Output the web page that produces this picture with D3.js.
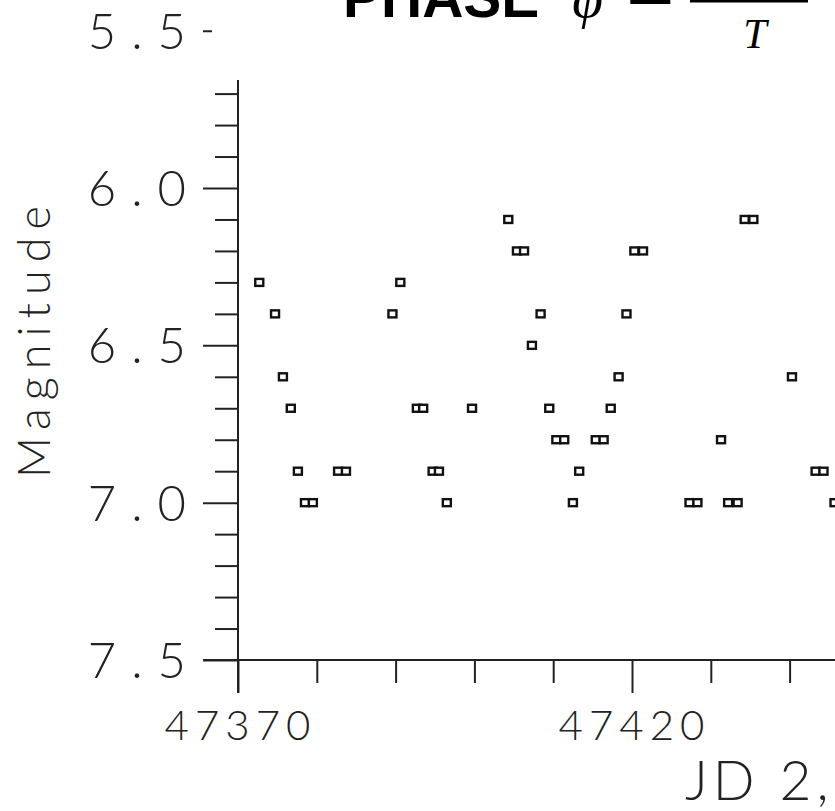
<!DOCTYPE html>
<html>
<head>
<meta charset="utf-8">
<script src="https://cdn.jsdelivr.net/npm/d3@7"></script>
<style>
  body { margin: 0; background: #fff; }
  svg { display: block; }
  .tick line { stroke: #222; stroke-width: 2; }
  .tick text { font-family: Lato, "Open Sans", sans-serif; font-weight: 300; fill: #222; }
</style>
</head>
<body>
<div id="chart"></div>
<script>
// light curve, JD - 2,400,000 vs visual magnitude
const jd = [47372.7, 47374.7, 47375.7, 47376.7, 47377.6, 47378.5, 47379.5, 47382.7, 47383.7,
  47389.6, 47390.6, 47392.7, 47393.5, 47394.7, 47395.5, 47396.5, 47399.7,
  47404.3, 47405.4, 47406.3, 47407.3, 47408.4, 47409.5, 47410.4, 47411.4, 47412.5, 47413.3,
  47415.4, 47416.4, 47417.3, 47418.3, 47419.3, 47420.3, 47421.4,
  47427.3, 47428.3, 47431.3, 47432.2, 47433.4, 47434.3, 47435.4, 47440.3, 47443.3, 47444.3, 47445.7];
const mag = [6.3, 6.4, 6.6, 6.7, 6.9, 7.0, 7.0, 6.9, 6.9,
  6.4, 6.3, 6.7, 6.7, 6.9, 6.9, 7.0, 6.7,
  6.1, 6.2, 6.2, 6.5, 6.4, 6.7, 6.8, 6.8, 7.0, 6.9,
  6.8, 6.8, 6.7, 6.6, 6.4, 6.2, 6.2,
  7.0, 7.0, 6.8, 7.0, 7.0, 6.1, 6.1, 6.6, 6.9, 6.9, 7.0];

const xMajor = [47370, 47420];
const xMinor = [47380, 47390, 47400, 47410, 47430, 47440];
const yMajor = [5.5, 6.0, 6.5, 7.0, 7.5];
const yMinor = [5.6, 5.7, 5.8, 5.9, 6.1, 6.2, 6.3, 6.4, 6.6, 6.7, 6.8, 6.9, 7.1, 7.2, 7.3, 7.4];

const svgWidth = 835;
const svgHeight = 811;

const svg = d3.select("#chart")
  .append("svg")
  .attr("width", svgWidth)
  .attr("height", svgHeight);

const x = d3.scaleLinear().domain([47370, 47420]).range([238, 632]);
const y = d3.scaleLinear().domain([6.0, 7.5]).range([188, 660]);

const x0 = x(47370);
const yBase = y(7.5);

// axis lines
svg.append("line")
  .attr("x1", x0).attr("x2", x0)
  .attr("y1", y(5.5)).attr("y2", yBase + 33)
  .attr("stroke", "#222").attr("stroke-width", 2);
svg.append("line")
  .attr("x1", x0 - 35).attr("x2", svgWidth)
  .attr("y1", yBase).attr("y2", yBase)
  .attr("stroke", "#222").attr("stroke-width", 2);

// x axis ticks
const xMinorAxis = svg.append("g")
  .attr("transform", `translate(0, ${yBase})`)
  .call(d3.axisBottom(x).tickValues(xMinor).tickSize(23).tickFormat(""));
xMinorAxis.select(".domain").remove();

const xMajorAxis = svg.append("g")
  .attr("transform", `translate(0, ${yBase})`)
  .call(d3.axisBottom(x).tickValues(xMajor).tickSize(33).tickFormat(d3.format("d")));
xMajorAxis.select(".domain").remove();
xMajorAxis.selectAll("text")
  .attr("y", 80)
  .attr("dy", null)
  .attr("dx", 2)
  .style("font-size", "42px")
  .style("letter-spacing", "6px");

// y axis ticks
const yMinorAxis = svg.append("g")
  .attr("transform", `translate(${x0}, 0)`)
  .call(d3.axisLeft(y).tickValues(yMinor).tickSize(23).tickFormat(""));
yMinorAxis.select(".domain").remove();

const yMajorAxis = svg.append("g")
  .attr("transform", `translate(${x0}, 0)`)
  .call(d3.axisLeft(y).tickValues(yMajor).tickSize(35).tickFormat(d3.format(".1f")));
yMajorAxis.select(".domain").remove();
yMajorAxis.selectAll("text")
  .attr("x", -37)
  .attr("dy", "0.36em")
  .style("font-size", "49px")
  .style("letter-spacing", "15px");

// points
svg.append("g")
  .selectAll("rect")
  .data(jd.map((d, i) => [d, mag[i]]))
  .enter()
  .append("rect")
  .attr("x", d => x(d[0]) - 4)
  .attr("y", d => y(d[1]) - 3.5)
  .attr("width", 8)
  .attr("height", 7)
  .attr("fill", "#fff")
  .attr("stroke", "#111")
  .attr("stroke-width", 2.4);

// axis titles
svg.append("text")
  .attr("transform", `translate(50, 338) rotate(-90)`)
  .attr("text-anchor", "middle")
  .style("font-family", "Lato, sans-serif")
  .style("font-weight", 300)
  .style("font-size", "45px")
  .style("letter-spacing", "8px")
  .attr("fill", "#222")
  .text("Magnitude");

svg.append("text")
  .attr("x", 685)
  .attr("y", 800)
  .style("font-family", "Lato, sans-serif")
  .style("font-weight", 300)
  .style("font-size", "55px")
  .style("letter-spacing", "5px")
  .attr("fill", "#222")
  .text("JD 2,");

// pasted-over title block on top
svg.append("rect")
  .attr("x", 212).attr("y", 0)
  .attr("width", svgWidth - 212).attr("height", 80)
  .attr("fill", "#fff");

svg.append("text")
  .attr("x", 343)
  .attr("y", 17)
  .style("font-family", "'Liberation Sans', Arial, sans-serif")
  .style("font-weight", "bold")
  .style("font-size", "57px")
  .attr("fill", "#000")
  .text("PHASE");

svg.append("text")
  .attr("x", 572)
  .attr("y", 17)
  .style("font-family", "'Liberation Serif', serif")
  .style("font-style", "italic")
  .style("font-size", "56px")
  .attr("fill", "#000")
  .text("φ");

svg.append("text")
  .attr("x", 626)
  .attr("y", 22)
  .style("font-family", "'Liberation Serif', serif")
  .style("font-size", "86px")
  .attr("fill", "#000")
  .text("=");

svg.append("line")
  .attr("x1", 690).attr("x2", 808)
  .attr("y1", 1).attr("y2", 1)
  .attr("stroke", "#000").attr("stroke-width", 3);

svg.append("text")
  .attr("x", 755)
  .attr("y", 48)
  .attr("text-anchor", "middle")
  .style("font-family", "'Liberation Serif', serif")
  .style("font-style", "italic")
  .style("font-size", "42px")
  .attr("fill", "#000")
  .text("T");
</script>
</body>
</html>
